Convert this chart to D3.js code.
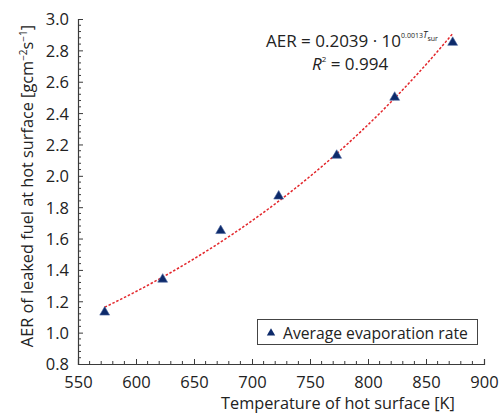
<!DOCTYPE html>
<html>
<head>
<meta charset="utf-8">
<script src="https://cdn.jsdelivr.net/npm/d3@7/dist/d3.min.js"></script>
<style>
  html, body { margin: 0; padding: 0; background: #fff; }
  svg { display: block; font-family: "Open Sans", "Noto Sans", sans-serif; }
</style>
</head>
<body>
<svg id="chart" width="499" height="415"></svg>
<script>
// Measured average evaporation rate vs hot-surface temperature
const temperatures = [573, 623, 673, 723, 773, 823, 873];
const aerValues = [1.13, 1.34, 1.65, 1.87, 2.13, 2.50, 2.85];

const xTicks = [550, 600, 650, 700, 750, 800, 850, 900];
const yTicks = [0.8, 1.0, 1.2, 1.4, 1.6, 1.8, 2.0, 2.2, 2.4, 2.6, 2.8, 3.0];

const svg = d3.select("#chart");
const plotLeft = 78, plotRight = 484, plotTop = 19, plotBottom = 364;

const x = d3.scaleLinear().domain([550, 900]).range([plotLeft, plotRight]);
const y = d3.scaleLinear().domain([0.8, 3.0]).range([plotBottom, plotTop]);

const axisColor = "#3a3a3a";

// Minor ticks (inward)
const xMinor = d3.range(550, 901, 10).filter(v => v % 50 !== 0);
const yMinor = d3.range(0, 56).map(i => +(0.8 + i * 0.04).toFixed(2))
  .filter(v => v <= 3.0001 && Math.abs(v * 5 - Math.round(v * 5)) > 1e-6);

const xAxis = svg.append("g")
  .attr("transform", `translate(0,${plotBottom})`)
  .call(d3.axisBottom(x).tickValues(xTicks).tickSize(-5).tickPadding(12).tickFormat(d3.format("d")));
xAxis.append("g").selectAll("line").data(xMinor).join("line")
  .attr("x1", d => x(d)).attr("x2", d => x(d)).attr("y1", 0).attr("y2", -3);

const yAxis = svg.append("g")
  .attr("transform", `translate(${plotLeft},0)`)
  .call(d3.axisLeft(y).tickValues(yTicks).tickSize(-5).tickPadding(9).tickFormat(d3.format(".1f")));
yAxis.append("g").selectAll("line").data(yMinor).join("line")
  .attr("y1", d => y(d)).attr("y2", d => y(d)).attr("x1", 0).attr("x2", 3);

[xAxis, yAxis].forEach(g => {
  g.select(".domain").attr("stroke", axisColor).attr("stroke-width", 1.2);
  g.selectAll("line").attr("stroke", axisColor).attr("stroke-width", 1);
  g.selectAll("text").attr("font-size", 16.5).attr("fill", "#222").attr("font-family", "Open Sans");
});
yAxis.selectAll(".tick text").attr("dy", "0.36em");

// Axis titles
svg.append("text")
  .attr("x", 338).attr("y", 409)
  .attr("text-anchor", "middle")
  .attr("font-size", 16.3).attr("fill", "#222")
  .text("Temperature of hot surface [K]");

const yTitle = svg.append("text")
  .attr("transform", `translate(33,186) rotate(-90)`)
  .attr("text-anchor", "middle")
  .attr("font-size", 16.3).attr("fill", "#222");
yTitle.append("tspan").text("AER of leaked fuel at hot surface [gcm");
yTitle.append("tspan").attr("dy", -6).attr("font-size", 10).text("−2");
yTitle.append("tspan").attr("dy", 6).text("s");
yTitle.append("tspan").attr("dy", -6).attr("font-size", 10).text("−1");
yTitle.append("tspan").attr("dy", 6).text("]");

// Exponential least-squares fit: log10(AER) = log10(a) + b*T
const logs = aerValues.map(v => Math.log10(v));
const mT = d3.mean(temperatures), mL = d3.mean(logs);
const b = d3.sum(temperatures, (t, i) => (t - mT) * (logs[i] - mL)) / d3.sum(temperatures, t => (t - mT) ** 2);
const logA = mL - b * mT;
const fitT = d3.range(573, 873.01, 3);
const line = d3.line().x(t => x(t)).y(t => y(Math.pow(10, logA + b * t)));

svg.append("path")
  .datum(fitT)
  .attr("d", line)
  .attr("fill", "none")
  .attr("stroke", "#e3262b")
  .attr("stroke-width", 1.5)
  .attr("stroke-dasharray", "2.5,1.8");

// Data points
const tri = d3.symbol().type(d3.symbolTriangle).size(42);
svg.append("g").selectAll("path").data(temperatures).join("path")
  .attr("d", tri)
  .attr("transform", (t, i) => `translate(${x(t)},${y(aerValues[i])})`)
  .attr("fill", "#0d2a6a")
  .attr("stroke", "#4a64a0")
  .attr("stroke-width", 0.6);

// Fit equation
const eq = svg.append("text")
  .attr("x", 266).attr("y", 47)
  .attr("font-size", 17).attr("fill", "#222");
eq.append("tspan").text("AER = 0.2039 · 10");
eq.append("tspan").attr("dy", -9).attr("font-size", 7).text("0.0013");
eq.append("tspan").attr("font-size", 9).attr("font-style", "italic").text("T");
eq.append("tspan").attr("dy", 3).attr("font-size", 7).text("sur");

const r2 = svg.append("text")
  .attr("x", 312).attr("y", 70)
  .attr("font-size", 17).attr("fill", "#222");
r2.append("tspan").attr("font-style", "italic").text("R");
r2.append("tspan").attr("dy", -8).attr("font-size", 8).text("2");
r2.append("tspan").attr("dy", 8).text(" = 0.994");

// Legend
const lg = svg.append("g");
lg.append("rect")
  .attr("x", 257.5).attr("y", 319.5).attr("width", 220).attr("height", 25)
  .attr("fill", "#fff").attr("stroke", "#444").attr("stroke-width", 1);
lg.append("path")
  .attr("d", d3.symbol().type(d3.symbolTriangle).size(30))
  .attr("transform", "translate(271,333)")
  .attr("fill", "#0d2a6a");
lg.append("text")
  .attr("x", 283).attr("y", 338.5)
  .attr("font-size", 15.7).attr("fill", "#222")
  .text("Average evaporation rate");
</script>
</body>
</html>
